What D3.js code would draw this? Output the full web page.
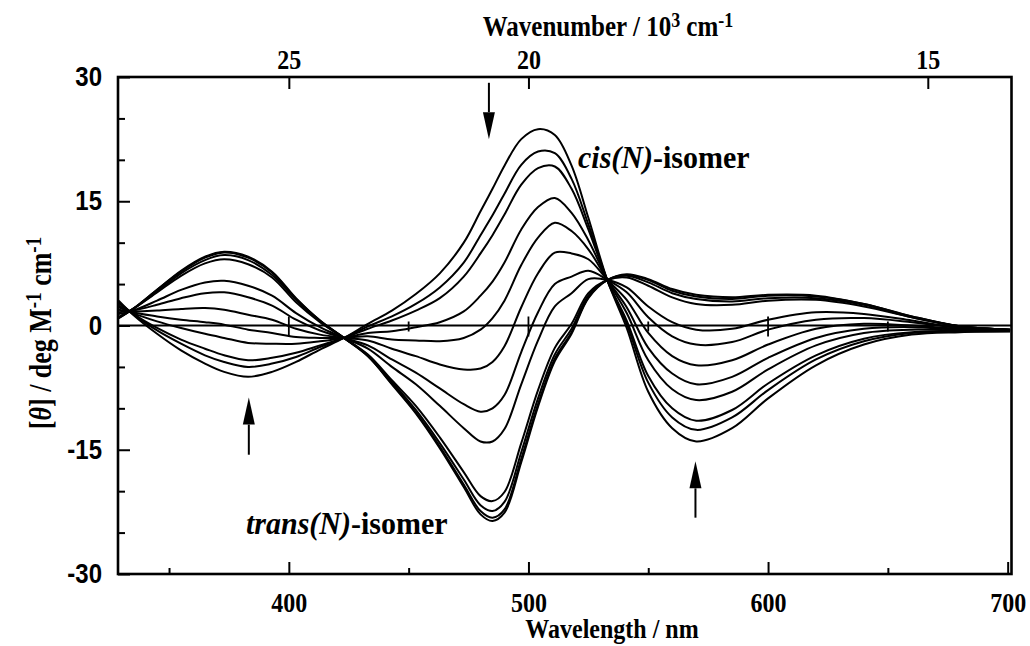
<!DOCTYPE html>
<html lang="en">
<head>
<meta charset="utf-8">
<title>CD spectra cis/trans isomer</title>
<script src="https://cdn.jsdelivr.net/npm/d3@7"></script>
<style>
	body { margin: 0; background: #fff; }
	.serif { font-family: "Liberation Serif", "Times New Roman", serif; font-weight: bold; fill: #000; }
	.sans { font-family: "Liberation Sans", Arial, sans-serif; font-weight: bold; fill: #000; }
	.curve { fill: none; stroke: #000; stroke-width: 2; stroke-linejoin: round; }
</style>
</head>
<body>
<div id="chart"></div>
<script>

// wavelength grid (nm)
var wl = [329, 335, 345, 355, 365, 373, 383, 393, 403, 413, 423, 433, 443, 453, 463, 473, 480, 485, 490, 497,
	504, 511, 518, 525, 533, 541, 550, 560, 570, 585, 600, 620, 640, 660, 680, 701];

// spectra, from trans(N) end to cis(N) end  ([theta] / deg M-1 cm-1)
var transN = [0.9, 2.0, 4.3, 6.6, 8.3, 8.9, 8.3, 6.5, 3.3, 0.6, -1.5, -3.7, -7.1, -10.6, -14.8, -19.5, -22.8, -23.6, -22.6, -16.5,
	-9.8, -4.3, -1.0, 3.3, 5.5, 6.2, 5.6, 4.4, 3.7, 3.4, 3.7, 3.6, 2.6, 1.1, -0.1, -0.5];
var s01 = [0.9, 2.0, 4.3, 6.5, 8.2, 8.8, 8.2, 6.4, 3.2, 0.6, -1.5, -3.7, -7.0, -10.5, -14.6, -19.2, -22.4, -23.2, -22.2, -16.1,
	-9.5, -4.0, -0.8, 3.4, 5.5, 6.1, 5.5, 4.2, 3.5, 3.2, 3.6, 3.5, 2.6, 1.1, -0.1, -0.5];
var s03 = [1.0, 2.0, 4.1, 6.3, 7.9, 8.5, 7.9, 6.1, 3.1, 0.5, -1.5, -3.6, -6.8, -10.2, -14.2, -18.6, -21.7, -22.4, -21.3, -15.3,
	-8.8, -3.5, -0.4, 3.6, 5.5, 6.0, 5.2, 3.9, 3.2, 2.9, 3.3, 3.3, 2.5, 1.0, -0.1, -0.5];
var s06 = [1.0, 2.0, 4.0, 6.0, 7.5, 8.0, 7.4, 5.8, 2.8, 0.4, -1.5, -3.5, -6.6, -9.7, -13.5, -17.7, -20.6, -21.2, -20.1, -14.2,
	-7.8, -2.7, 0.2, 3.9, 5.5, 5.8, 4.8, 3.4, 2.6, 2.5, 3.0, 3.1, 2.3, 1.0, -0.1, -0.5];
var s24 = [1.4, 1.8, 3.0, 4.3, 5.2, 5.4, 4.8, 3.6, 1.5, -0.2, -1.5, -2.8, -5.0, -7.1, -9.7, -12.4, -14.0, -14.0, -12.5, -7.1,
	-1.8, 2.3, 3.9, 5.6, 5.5, 4.6, 2.3, 0.4, -0.5, -0.4, 0.7, 1.6, 1.4, 0.6, -0.3, -0.5];
var s34 = [1.6, 1.8, 2.5, 3.3, 3.9, 4.0, 3.4, 2.4, 0.7, -0.6, -1.5, -2.4, -4.1, -5.7, -7.6, -9.5, -10.4, -10.0, -8.4, -3.2,
	1.6, 5.0, 5.9, 6.6, 5.5, 4.0, 1.0, -1.3, -2.3, -2.0, -0.5, 0.7, 0.9, 0.4, -0.3, -0.6];
var s48 = [1.9, 1.7, 1.8, 2.0, 2.1, 1.9, 1.3, 0.7, -0.4, -1.1, -1.5, -1.8, -2.8, -3.7, -4.7, -5.3, -5.2, -4.4, -2.5, 2.2,
	6.3, 8.8, 8.7, 8.0, 5.5, 3.1, -0.9, -3.7, -4.8, -4.2, -2.3, -0.4, 0.2, 0.0, -0.4, -0.6];
var s61 = [2.2, 1.6, 1.1, 0.7, 0.4, 0.1, -0.5, -0.9, -1.4, -1.5, -1.5, -1.3, -1.7, -1.8, -1.9, -1.5, -0.5, 0.9, 3.0, 7.3,
	10.6, 12.4, 11.4, 9.2, 5.5, 2.2, -2.7, -5.8, -7.1, -6.2, -3.9, -1.5, -0.4, -0.2, -0.5, -0.6];
var s72 = [2.4, 1.5, 0.5, -0.3, -1.0, -1.5, -2.1, -2.2, -2.2, -1.9, -1.5, -0.9, -0.7, -0.2, 0.4, 1.7, 3.6, 5.3, 7.6, 11.6,
	14.3, 15.4, 13.6, 10.3, 5.5, 1.5, -4.2, -7.7, -9.0, -8.0, -5.3, -2.4, -0.9, -0.5, -0.6, -0.6];
var s86 = [2.7, 1.4, -0.3, -1.7, -2.8, -3.6, -4.2, -3.9, -3.3, -2.4, -1.5, -0.4, 0.6, 1.8, 3.3, 5.9, 8.7, 10.9, 13.4, 17.0,
	19.0, 19.2, 16.5, 11.6, 5.4, 0.6, -6.1, -10.0, -11.5, -10.2, -7.0, -3.6, -1.6, -0.8, -0.7, -0.7];
var s92 = [2.8, 1.4, -0.6, -2.2, -3.6, -4.4, -5.0, -4.6, -3.8, -2.6, -1.5, -0.1, 1.1, 2.6, 4.6, 7.6, 10.9, 13.3, 15.9, 19.4,
	21.0, 20.8, 17.7, 12.2, 5.4, 0.2, -6.9, -11.1, -12.6, -11.1, -7.8, -4.1, -1.9, -0.9, -0.7, -0.7];
var cisN = [3.0, 1.3, -1.0, -3.0, -4.6, -5.6, -6.2, -5.6, -4.4, -2.9, -1.5, 0.2, 1.8, 3.8, 6.3, 10.0, 13.8, 16.5, 19.3, 22.5,
	23.7, 23.0, 19.3, 13.0, 5.4, -0.3, -8.0, -12.4, -14.0, -12.4, -8.8, -4.8, -2.3, -1.1, -0.8, -0.7];

// ticks
var yMajor = [-30, -15, 0, 15, 30];
var yMinor = [-25, -20, -10, -5, 5, 10, 20, 25];
var xMajor = [400, 500, 600, 700];
var xMinor = [350, 450, 550, 650];
var wnTicks = [25, 20, 15];          // 10^3 cm-1
var zeroMarks = [400, 450, 500, 550, 600, 650];

// arrows (wavelength, start value, tip value)
var arrowWl = [483.5, 383.3, 569.7];
var arrowFrom = [29.3, -15.6, -23.2];
var arrowTo = [22.5, -8.7, -16.4];

var w = 1030, h = 646;

var svg = d3.select("#chart").append("svg")
	.attr("width", w)
	.attr("height", h);

var x = d3.scaleLinear().domain([328.7, 701.6]).range([118, 1011.5]);
var y = d3.scaleLinear().domain([-30, 30]).range([574, 77]);

var x0 = x.range()[0], x1 = x.range()[1];
var yTop = y.range()[1], yBot = y.range()[0];

// clip
svg.append("clipPath").attr("id", "clip")
	.append("rect")
	.attr("x", x0).attr("y", yTop)
	.attr("width", x1 - x0).attr("height", yBot - yTop);

// axes (the printed fonts are tall and narrow, so labels get a vertical stretch)
var sl = 1.12, sb = 1.18;
var gl = svg.append("g")
	.attr("transform", "translate(" + x0 + ",0)")
	.call(d3.axisLeft(y).tickValues(yMajor).tickSizeInner(-12).tickSizeOuter(0).tickPadding(16)
		.tickFormat(function(d) { return String(d); }));
gl.append("g").call(d3.axisLeft(y).tickValues(yMinor).tickSizeInner(-7).tickSizeOuter(0).tickFormat(""));

var gb = svg.append("g")
	.attr("transform", "translate(0," + yBot + ")")
	.call(d3.axisBottom(x).tickValues(xMajor).tickSizeInner(-12).tickSizeOuter(0));
gb.append("g").call(d3.axisBottom(x).tickValues(xMinor).tickSizeInner(-6).tickSizeOuter(0).tickFormat(""));

var gt = svg.append("g")
	.attr("transform", "translate(0," + yTop + ")")
	.call(d3.axisTop(x).tickValues(wnTicks.map(function(k) { return 1e4 / k; }))
		.tickSizeInner(-12).tickSizeOuter(0)
		.tickFormat(function(d, i) { return wnTicks[i]; }));

svg.selectAll(".domain").remove();
svg.selectAll(".tick line").attr("stroke", "#000").attr("stroke-width", 2);

gl.selectAll("text").attr("font-family", null).attr("class", "sans").attr("font-size", 24)
	.attr("dy", null).attr("y", 8.5 / sl)
	.attr("transform", "scale(1," + sl + ")");
gb.selectAll("text").attr("font-family", null).attr("class", "serif").attr("font-size", 24)
	.attr("dy", null).attr("y", 38 / sb)
	.attr("transform", "scale(1," + sb + ")");
gt.selectAll("text").attr("font-family", null).attr("class", "serif").attr("font-size", 24)
	.attr("dy", null).attr("y", -8 / sb)
	.attr("transform", "scale(1," + sb + ")");

// zero line with crosses
var plot = svg.append("g");
plot.append("line")
	.attr("x1", x0).attr("x2", x1)
	.attr("y1", y(0)).attr("y2", y(0))
	.attr("stroke", "#000").attr("stroke-width", 2.2);
plot.selectAll(".zmark").data(zeroMarks).enter().append("line")
	.attr("class", "zmark")
	.attr("x1", function(d) { return x(d); }).attr("x2", function(d) { return x(d); })
	.attr("y1", function(d) { return y(0) - (d % 100 === 0 ? 9 : 4); })
	.attr("y2", function(d) { return y(0) + (d % 100 === 0 ? 11 : 6); })
	.attr("stroke", "#000").attr("stroke-width", 1.8);

// curves
var series = [transN, s01, s03, s06, s24, s34, s48, s61, s72, s86, s92, cisN];
var line = d3.line()
	.x(function(d, i) { return x(wl[i]); })
	.y(function(d) { return y(d); })
	.curve(d3.curveCatmullRom.alpha(0.5));

plot.append("g").attr("clip-path", "url(#clip)")
	.selectAll(".curve")
	.data(series)
	.enter()
	.append("path")
	.attr("class", "curve")
	.attr("d", line);

// frame
svg.append("rect")
	.attr("x", x0).attr("y", yTop)
	.attr("width", x1 - x0).attr("height", yBot - yTop)
	.attr("fill", "none").attr("stroke", "#000").attr("stroke-width", 2.6);

// arrows
arrowWl.forEach(function(a, i) {
	var ax = x(a), ya = y(arrowFrom[i]), yb = y(arrowTo[i]);
	var dir = yb > ya ? 1 : -1;
	var head = 27;
	svg.append("line")
		.attr("x1", ax).attr("x2", ax)
		.attr("y1", ya).attr("y2", yb - dir * head)
		.attr("stroke", "#000").attr("stroke-width", 2);
	svg.append("path")
		.attr("d", "M" + ax + "," + yb + "L" + (ax - 6) + "," + (yb - dir * head) + "L" + (ax + 6) + "," + (yb - dir * head) + "Z")
		.attr("fill", "#000");
});

// text placed at (px, py) with a stretch
function stretched(px, py, size, sy, anchor, rot) {
	return svg.append("g")
		.attr("transform", "translate(" + px + "," + py + ")" + (rot ? " rotate(" + rot + ")" : "") + " scale(1," + sy + ")")
		.append("text").attr("class", "serif").attr("font-size", size)
		.attr("text-anchor", anchor);
}

// axis titles
var tt = stretched(608, 36, 25, 1.15, "middle");
tt.append("tspan").text("Wavenumber / 10");
tt.append("tspan").attr("dy", -8).attr("font-size", 18).text("3");
tt.append("tspan").attr("dy", 8).text(" cm");
tt.append("tspan").attr("dy", -8).attr("font-size", 18).text("-1");

stretched(612, 638, 24, 1.1, "middle").text("Wavelength / nm");

var yt = stretched(51, 333, 26, 1.2, "middle", -90);
yt.append("tspan").text("[");
yt.append("tspan").attr("font-style", "italic").text("\u03b8");
yt.append("tspan").text("] / deg M");
yt.append("tspan").attr("dy", -8).attr("font-size", 19).text("-1");
yt.append("tspan").attr("dy", 8).text(" cm");
yt.append("tspan").attr("dy", -8).attr("font-size", 19).text("-1");

// isomer labels
var cl = stretched(578, 168, 30, 1.08, "start");
cl.append("tspan").attr("font-style", "italic").text("cis(N)");
cl.append("tspan").text("-isomer");

var tl = stretched(246, 534, 30, 1.08, "start");
tl.append("tspan").attr("font-style", "italic").text("trans(N)");
tl.append("tspan").text("-isomer");

</script>
</body>
</html>
